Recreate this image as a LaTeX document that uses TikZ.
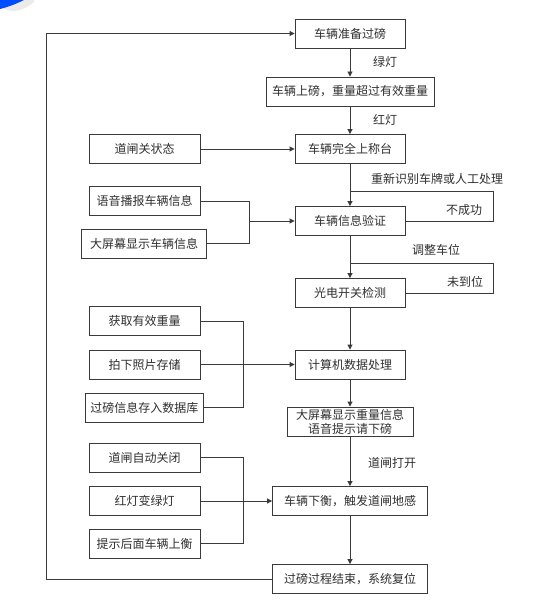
\documentclass[tikz,border=0pt]{standalone}
\usepackage{fontspec}
\setmainfont{Noto Sans CJK SC}
\usetikzlibrary{arrows.meta}
\definecolor{ln}{HTML}{3A3A3A}
\definecolor{tx}{HTML}{303030}
\tikzset{
  box/.style={draw=ln, line width=0.9pt, fill=white, rectangle, inner sep=0pt, text=tx,
    font=\fontsize{12}{14}\selectfont, align=center, minimum height=29},
  lab/.style={text=tx, font=\fontsize{12}{14}\selectfont, inner sep=0pt},
  conn/.style={draw=ln, line width=0.9pt},
  arr/.style={conn, -{Triangle[length=5pt,width=5pt]}}
}
\begin{document}
\begin{tikzpicture}[x=1pt,y=-1pt]
\useasboundingbox (0,0) rectangle (537,607);
\fill[white] (0,0) rectangle (537,607);
% corner decoration
\fill[black!8] (0,6) .. controls (10,14) and (22,12) .. (34,2) -- (34,0) -- (0,0) -- cycle;
\fill[blue!70!cyan] (0,0) -- (24,0) .. controls (16,4) and (8,7) .. (0,9) -- cycle;

% main column
\node[box, minimum width=110] (n1) at (350,33.5) {车辆准备过磅};
\node[box, minimum width=168] (n2) at (350,91.5) {车辆上磅，重量超过有效重量};
\node[box, minimum width=110] (n3) at (350,149) {车辆完全上称台};
\node[box, minimum width=110] (n4) at (350,221) {车辆信息验证};
\node[box, minimum width=110] (n5) at (350,293) {光电开关检测};
\node[box, minimum width=110] (n6) at (350,364.5) {计算机数据处理};
\node[box, minimum width=126] (n7) at (350,421.5) {大屏幕显示重量信息\\语音提示请下磅};
\node[box, minimum width=155] (n8) at (350,501) {车辆下衡，触发道闸地感};
\node[box, minimum width=155] (n9) at (350,579) {过磅过程结束，系统复位};

% left column
\node[box, minimum width=111] (g1) at (144.5,149) {道闸关状态};
\node[box, minimum width=111] (v1) at (144.5,201) {语音播报车辆信息};
\node[box, minimum width=125] (v2) at (144,243.5) {大屏幕显示车辆信息};
\node[box, minimum width=111] (w1) at (144.5,321) {获取有效重量};
\node[box, minimum width=111] (w2) at (144.5,364.5) {拍下照片存储};
\node[box, minimum width=118] (w3) at (144.3,407.5) {过磅信息存入数据库};
\node[box, minimum width=111] (e1) at (144.5,457.5) {道闸自动关闭};
\node[box, minimum width=111] (e2) at (144.5,501) {红灯变绿灯};
\node[box, minimum width=111] (e3) at (144.5,543.5) {提示后面车辆上衡};

% labels
\node[lab] (l1) at (385,62) {绿灯};
\node[lab] (l2) at (385,120) {红灯};
\node[lab] (l3) at (437,179) {重新识别车牌或人工处理};
\node[lab] (l4) at (464,210) {不成功};
\node[lab] (l5) at (436,250) {调整车位};
\node[lab] (l6) at (465,282) {未到位};
\node[lab] (l7) at (392,463) {道闸打开};

% coordinates
\coordinate (j1) at (350,191);
\coordinate (r1) at (493,191);
\coordinate (j2) at (350,263);
\coordinate (r2) at (493,263);
\coordinate (b1) at (249,221);
\coordinate (b2t) at (243,321);
\coordinate (b2b) at (243,407.5);
\coordinate (b3t) at (243,457.5);
\coordinate (b3b) at (243,543.5);
\coordinate (fb) at (46,33.5);

% main arrows
\draw[arr] (n1) -- (n2);
\draw[arr] (n2) -- (n3);
\draw[arr] (n3) -- (n4);
\draw[arr] (n4) -- (n5);
\draw[arr] (n5) -- (n6);
\draw[arr] (n6) -- (n7);
\draw[arr] (n7) -- (n8);
\draw[arr] (n8) -- (n9);

% loops
\draw[conn] (n4.east) -| (r1) -- (j1);
\draw[conn] (n5.east) -| (r2) -- (j2);

% side inputs
\draw[arr] (g1) -- (n3);
\draw[conn] (v1.east) -| (b1);
\draw[conn] (v2.east) -| (b1);
\draw[arr] (b1) -- (n4.west);
\draw[conn] (w1.east) -- (b2t) -- (b2b) -- (w3.east);
\draw[arr] (w2) -- (n6);
\draw[conn] (e1.east) -- (b3t) -- (b3b) -- (e3.east);
\draw[arr] (e2) -- (n8);

% feedback
\draw[arr] (n9.west) -| (fb) -- (n1.west);
\end{tikzpicture}
\end{document}
